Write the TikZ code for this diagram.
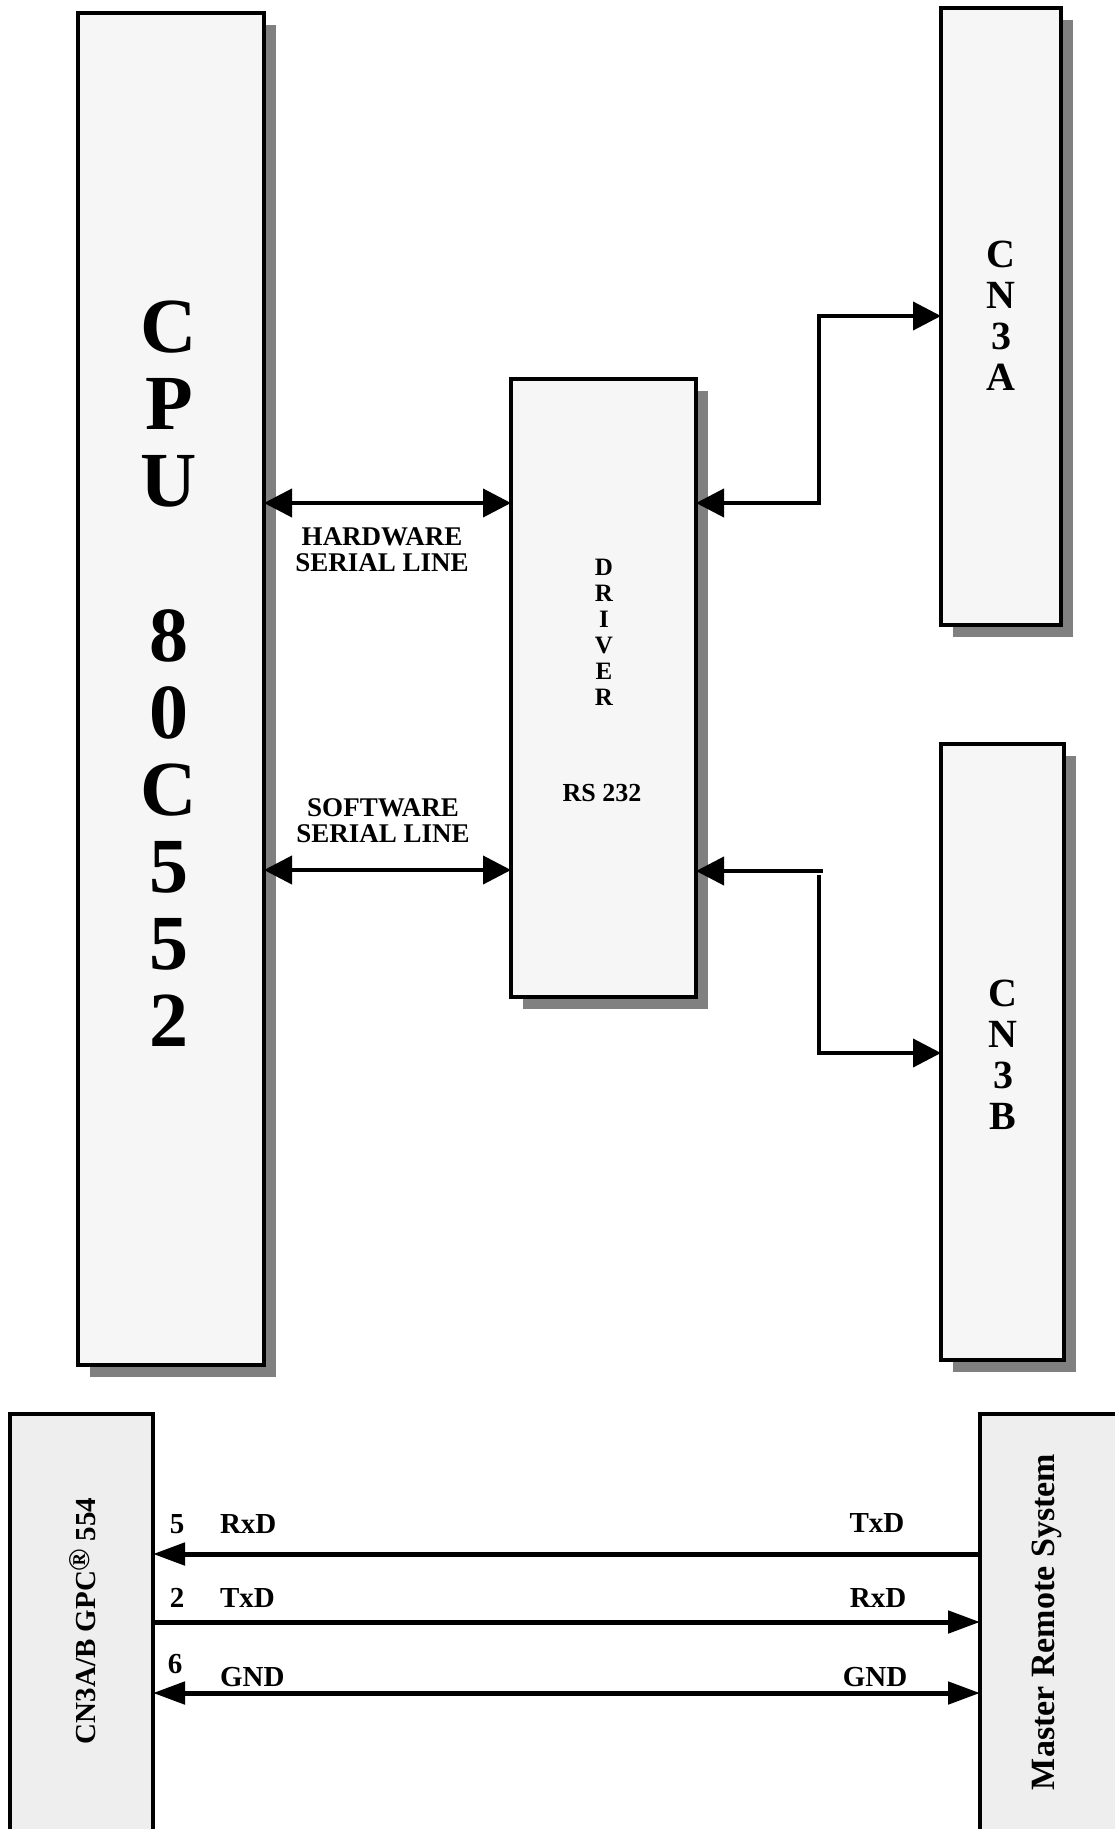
\documentclass[tikz,border=0pt]{standalone}
\usepackage{fontspec}
\setmainfont{Liberation Serif}
\usetikzlibrary{arrows.meta,shadows}

\definecolor{boxfill}{HTML}{F6F6F6}
\definecolor{panelfill}{HTML}{EEEEEE}
\definecolor{shadowgray}{HTML}{808080}

\begin{document}
\begin{tikzpicture}[x=0.5pt,y=-0.5pt,
  block/.style={draw=black, line width=2pt, fill=boxfill, anchor=north west,
    inner sep=0pt, outer sep=0pt,
    drop shadow={shadow xshift=6pt, shadow yshift=-6pt, fill=shadowgray, opacity=1}},
  panel/.style={fill=panelfill, anchor=north west, inner sep=0pt, outer sep=0pt},
  border/.style={line width=2pt},
  lbl/.style={inner sep=0pt, outer sep=0pt},
  tipA/.style={line width=2pt},
  link/.style={tipA,
    {Triangle[length=14pt,width=14pt]}-{Triangle[length=14pt,width=14pt]}},
  linkstart/.style={tipA, {Triangle[length=14pt,width=14pt]}-},
  linkend/.style={tipA, -{Triangle[length=14pt,width=14pt]}},
  wire/.style={line width=2.5pt},
  wireleft/.style={wire, {Triangle[length=16pt,width=11pt]}-},
  wireright/.style={wire, -{Triangle[length=16pt,width=11pt]}},
  wireboth/.style={wire, {Triangle[length=16pt,width=11pt]}-{Triangle[length=16pt,width=11pt]}},
]
\useasboundingbox (0,0) rectangle (1115,1829);
\clip (0,0) rectangle (1115,1829);

% ---- upper block diagram ----
\node[block, minimum width=93pt, minimum height=676pt] (cpu) at (78,13) {};
\node[block, minimum width=92.5pt, minimum height=309pt] (drv) at (511,379) {};
\node[block, minimum width=60pt, minimum height=308.5pt] (cn3a) at (941,8) {};
\node[block, minimum width=61.5pt, minimum height=308pt] (cn3b) at (941,744) {};

\node[lbl, font=\bfseries\fontsize{39}{38.5}\selectfont, align=center] (cputxt) at (169,674)
  {C\\P\\U\\[39pt]8\\0\\C\\5\\5\\2};
\node[lbl, font=\bfseries\fontsize{12.5}{13}\selectfont, align=center] (drvtxt) at (604,632)
  {D\\R\\I\\V\\E\\R};
\node[lbl, font=\bfseries\fontsize{13}{13}\selectfont] (rstxt) at (602,793) {RS 232};
\node[lbl, font=\bfseries\fontsize{20}{20.5}\selectfont, align=center] (cn3atxt) at (1001,315.5)
  {C\\N\\3\\A};
\node[lbl, font=\bfseries\fontsize{20}{20.5}\selectfont, align=center] (cn3btxt) at (1003,1055)
  {C\\N\\3\\B};
\node[lbl, font=\bfseries\fontsize{13.5}{13}\selectfont, align=center] (hwtxt) at (382,550)
  {HARDWARE\\SERIAL LINE};
\node[lbl, font=\bfseries\fontsize{13.5}{13}\selectfont, align=center] (swtxt) at (383,821)
  {SOFTWARE\\SERIAL LINE};

\coordinate (bendA) at (819,316);
\coordinate (stubB) at (823,871);
\coordinate (topB) at (819,875);
\coordinate (bendB) at (819,1053);

\draw[link] (cpu.east |- 0,503) -- (drv.west |- 0,503);
\draw[link] (cpu.east |- 0,870) -- (drv.west |- 0,870);
\draw[link] (drv.east |- 0,503) -| (bendA) -- (cn3a.west |- bendA);
\draw[linkstart] (drv.east |- stubB) -- (stubB);
\draw[linkend] (topB) -- (bendB) -- (cn3b.west |- bendB);

% ---- lower wiring panel ----
\node[panel, minimum width=71.5pt, minimum height=207.5pt] (gpc) at (10,1414) {};
\node[panel, minimum width=67.5pt, minimum height=207.5pt] (master) at (980,1414) {};
\draw[border] (gpc.south west) -- (gpc.north west) -- (gpc.north east) -- (gpc.south east);
\draw[border] (master.south west) -- (master.north west) -- (master.north east);

\node[lbl, rotate=90, font=\bfseries\fontsize{14.5}{17}\selectfont] (gpctxt) at (83,1621)
  {CN3A/B GPC\raisebox{3pt}{\fontsize{15}{15}\selectfont\textregistered} 554};
\node[lbl, rotate=90, font=\bfseries\fontsize{17}{20}\selectfont] (mastertxt) at (1047,1622)
  {Master Remote System};

\draw[wireleft] (gpc.east |- 0,1554) -- (master.west |- 0,1554);
\draw[wireright] (gpc.east |- 0,1622) -- (master.west |- 0,1622);
\draw[wireboth] (gpc.east |- 0,1693) -- (master.west |- 0,1693);

\begin{scope}[every node/.style={lbl, font=\bfseries\fontsize{14.5}{17}\selectfont}]
  \node (pin5) at (177,1524) {5};
  \node[anchor=west] (rxdl) at (220,1524) {RxD};
  \node (pin2) at (177,1598) {2};
  \node[anchor=west] (txdl) at (220,1598) {TxD};
  \node (pin6) at (175,1664) {6};
  \node[anchor=west] (gndl) at (220,1677) {GND};
  \node (txdr) at (877,1523) {TxD};
  \node (rxdr) at (878,1598) {RxD};
  \node (gndr) at (875,1677) {GND};
\end{scope}
\end{tikzpicture}
\end{document}
